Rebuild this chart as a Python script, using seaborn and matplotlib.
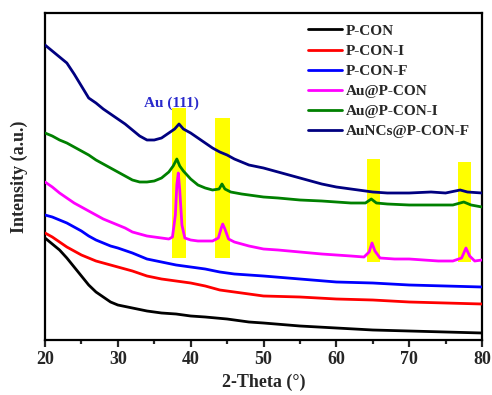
import numpy as np
import pandas as pd
import matplotlib
matplotlib.use("Agg")
import matplotlib.pyplot as plt
import seaborn as sns
from matplotlib.lines import Line2D

# ---- data (stored as depth below a reference level) ----
REF = 340.0

pcon_x = [20, 21, 22, 23, 24, 25, 26, 27, 28, 29, 30, 32, 34, 36, 38, 40, 42, 45, 48, 50, 55, 60, 65, 70, 75, 80]
pcon_d = [238, 244, 250, 258, 267, 276, 285, 292, 297, 302, 305, 308, 311, 313, 314, 316, 317, 319, 322, 323, 326, 328, 330, 331, 332, 333]

pconi_x = [20, 21, 22, 23, 24, 25, 26, 27, 28, 29, 30, 32, 34, 36, 38, 40, 42, 44, 46, 48, 50, 55, 60, 65, 70, 75, 80]
pconi_d = [233, 237, 242, 247, 251, 255, 258, 261, 263, 265, 267, 271, 276, 279, 281, 283, 286, 290, 292, 294, 296, 297, 299, 300, 302, 303, 304]

pconf_x = [20, 21, 22, 23, 24, 25, 26, 27, 28, 29, 30, 32, 34, 36, 38, 40, 42, 44, 46, 48, 50, 55, 60, 65, 70, 75, 80]
pconf_d = [215, 217, 220, 223, 227, 231, 236, 240, 243, 246, 248, 253, 259, 262, 265, 267, 269, 272, 274, 275, 276, 279, 282, 283, 285, 286, 287]

au_x = [20, 21, 22, 23, 24, 25, 26, 27, 28, 29, 30, 31, 32, 33, 34, 35, 36, 37, 37.5, 37.9, 38.1, 38.3, 38.5, 38.8, 39.2,
        40, 41, 42, 43, 43.8, 44.2, 44.4, 44.7, 45.2, 46, 48, 50, 52, 55, 58, 60, 62, 63.8, 64.5, 64.9, 65.3, 66,
        68, 70, 72, 74, 76, 77.2, 77.8, 78.3, 79, 80]
au_d = [182, 187, 193, 198, 203, 207, 211, 215, 219, 222, 225, 228, 232, 234, 236, 237, 238, 239, 237, 215, 185, 173, 190, 225, 238,
        240, 241, 241, 241, 238, 228, 224, 229, 239, 242, 246, 249, 250, 252, 254, 255, 256, 257, 252, 243, 251, 258,
        259, 259, 260, 261, 261, 258, 248, 256, 261, 260]

aui_x = [20, 21, 22, 23, 24, 25, 26, 27, 28, 29, 30, 31, 32, 33, 34, 35, 36, 37, 37.6, 38.1, 38.5, 39, 40, 41, 42, 43,
         43.9, 44.3, 44.7, 45.5, 47, 48, 50, 52, 55, 58, 60, 62, 64, 64.8, 65.5, 67, 70, 73, 76, 77.5, 78.5, 80]
aui_d = [133, 136, 140, 143, 147, 151, 155, 160, 164, 168, 172, 176, 180, 182, 182, 181, 178, 172, 166, 159, 166, 171, 179, 185, 188, 190,
         189, 184, 189, 192, 194, 195, 197, 198, 200, 201, 202, 203, 203, 199, 203, 204, 205, 205, 205, 202, 205, 207]

aunc_x = [20, 21, 22, 23, 24, 25, 26, 27, 28, 29, 30, 31, 32, 33, 34, 35, 36, 37, 37.8, 38.4, 39, 40, 41, 42, 43, 44,
          45, 46, 47, 48, 50, 52, 55, 58, 60, 63, 65, 67, 70, 73, 75, 77, 78, 80]
aunc_d = [45, 51, 57, 63, 74, 86, 98, 103, 109, 114, 119, 124, 130, 136, 140, 140, 138, 133, 129, 124, 129, 133, 138, 143, 148, 152,
          155, 159, 162, 165, 168, 172, 178, 184, 187, 190, 192, 193, 193, 192, 193, 190, 192, 193]

series_names = ["P-CON", "P-CON-I", "P-CON-F", "Au@P-CON", "Au@P-CON-I", "AuNCs@P-CON-F"]
series_colors = ["#000000", "#ff0000", "#0000ff", "#ff00ff", "#008000", "#000080"]
series_xs = [pcon_x, pconi_x, pconf_x, au_x, aui_x, aunc_x]
series_ds = [pcon_d, pconi_d, pconf_d, au_d, aui_d, aunc_d]

band_centers = [38.35, 44.4, 65.1, 77.6]
band_widths = [1.9, 2.0, 1.8, 1.8]
band_bottoms = [82, 82, 78, 78]
band_tops = [232, 222, 181, 178]

# ---- build long-form table ----
rows = []
for name, xs, ds in zip(series_names, series_xs, series_ds):
    for x, d in zip(xs, ds):
        rows.append({"theta": x, "intensity": REF - d, "sample": name})
df = pd.DataFrame(rows)

sns.set_style("white")
plt.rcParams["font.family"] = ["Liberation Serif", "DejaVu Serif"]
plt.rcParams["font.weight"] = "bold"

fig = plt.figure(figsize=(4.92, 3.95), dpi=100)
ax = fig.add_axes([45 / 492, 1 - 340 / 395, (482 - 45) / 492, (340 - 13) / 395])

# yellow highlight bands
ax.bar(band_centers, np.array(band_tops) - np.array(band_bottoms), bottom=band_bottoms,
       width=band_widths, color="#ffff00", zorder=1, linewidth=0)

sns.lineplot(data=df, x="theta", y="intensity", hue="sample", hue_order=series_names,
             palette=series_colors, linewidth=2.0, ax=ax, legend=False, zorder=3,
             estimator=None, sort=False)

ax.set_xlim(20, 80)
ax.set_ylim(0, 327)
ax.set_xticks(range(20, 81, 10))
ax.set_xticks(range(25, 80, 10), minor=True)
ax.set_yticks([])
ax.tick_params(axis="x", which="major", direction="out", length=5, width=1.6,
               labelsize=13, pad=3, bottom=True)
ax.tick_params(axis="x", which="minor", direction="out", length=3, width=1.6, bottom=True)
for lbl in ax.get_xticklabels():
    lbl.set_fontweight("bold")
for sp in ax.spines.values():
    sp.set_linewidth(1.6)
    sp.set_color("black")

ax.set_xlabel("2-Theta (°)", fontsize=13, fontweight="bold", labelpad=4)
ax.set_ylabel("Intensity (a.u.)", fontsize=13, fontweight="bold", labelpad=12)

ax.text(37.3, 237, "Au (111)", color="#2a2acc", fontsize=11, fontweight="bold",
        ha="center", va="center", zorder=4)

handles = [Line2D([0], [0], color=c, lw=2.0) for c in series_colors]
leg = ax.legend(handles, series_names, loc="upper left",
                bbox_to_anchor=((305 - 45) / 437, 1 - 8 / 327), frameon=False,
                fontsize=11, handlelength=2.2, handletextpad=0.3, labelspacing=0.42,
                borderaxespad=0, borderpad=0.2)
for t in leg.get_texts():
    t.set_fontweight("bold")

fig.savefig("out.png", dpi=100)
